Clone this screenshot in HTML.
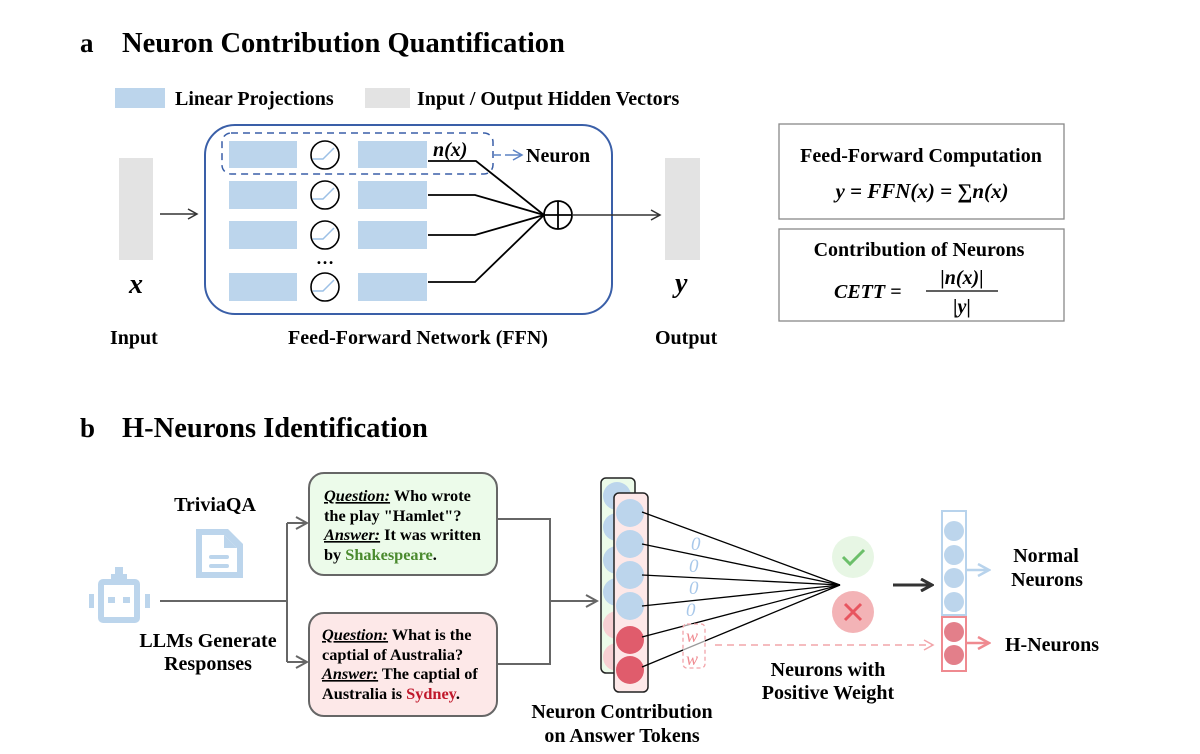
<!DOCTYPE html>
<html><head><meta charset="utf-8"><style>
body{margin:0;background:#fff}
svg{display:block}
text{font-family:"Liberation Serif",serif;font-weight:bold;fill:#000}
</style></head><body>
<svg width="1200" height="754" viewBox="0 0 1200 754" xmlns="http://www.w3.org/2000/svg">
<defs>
<marker id="ab" markerWidth="12" markerHeight="12" refX="10" refY="6" orient="auto" markerUnits="userSpaceOnUse"><path d="M1,1 L10,6 L1,11" fill="none" stroke="#333" stroke-width="1.5"/></marker>
<marker id="ag" markerWidth="14" markerHeight="14" refX="12" refY="7" orient="auto" markerUnits="userSpaceOnUse"><path d="M1,1 L12,7 L1,13" fill="none" stroke="#666" stroke-width="2"/></marker>
<marker id="ad" markerWidth="14" markerHeight="14" refX="12" refY="7" orient="auto" markerUnits="userSpaceOnUse"><path d="M1,1 L12,7 L1,13" fill="none" stroke="#333" stroke-width="3"/></marker>
<marker id="abl" markerWidth="14" markerHeight="14" refX="12" refY="7" orient="auto" markerUnits="userSpaceOnUse"><path d="M1,1 L12,7 L1,13" fill="none" stroke="#b8d3ec" stroke-width="2.5"/></marker>
<marker id="ar" markerWidth="14" markerHeight="14" refX="12" refY="7" orient="auto" markerUnits="userSpaceOnUse"><path d="M1,1 L12,7 L1,13" fill="none" stroke="#ef8a90" stroke-width="2.5"/></marker>
<marker id="arl" markerWidth="12" markerHeight="12" refX="10" refY="6" orient="auto" markerUnits="userSpaceOnUse"><path d="M1,1 L10,6 L1,11" fill="none" stroke="#f2a5aa" stroke-width="1.5"/></marker>
<marker id="an" markerWidth="12" markerHeight="12" refX="10" refY="6" orient="auto" markerUnits="userSpaceOnUse"><path d="M1,1 L10,6 L1,11" fill="none" stroke="#5b82c4" stroke-width="1.5"/></marker>
</defs>

<!-- Part a -->
<text x="80" y="52" font-size="27">a</text>
<text x="122" y="52" font-size="28.5">Neuron Contribution Quantification</text>
<rect x="115" y="88" width="50" height="20" fill="#bcd5ec"/>
<text x="175" y="105" font-size="20">Linear Projections</text>
<rect x="365" y="88" width="45" height="20" fill="#e3e3e3"/>
<text x="417" y="105" font-size="20">Input / Output Hidden Vectors</text>

<rect x="119" y="158" width="34" height="102" fill="#e3e3e3"/>
<line x1="160" y1="214" x2="197" y2="214" stroke="#333" stroke-width="1.5" marker-end="url(#ab)"/>
<text x="129" y="293" font-size="28" font-style="italic">x</text>
<text x="110" y="344" font-size="20">Input</text>

<rect x="205" y="125" width="407" height="189" rx="30" fill="none" stroke="#3a5fa8" stroke-width="2"/>
<rect x="222" y="133" width="271" height="41" rx="9" fill="none" stroke="#3a5fa8" stroke-width="1.5" stroke-dasharray="7,5"/>
<g fill="#bcd5ec">
<rect x="229" y="141" width="68" height="27"/><rect x="358" y="141" width="69" height="27"/>
<rect x="229" y="181" width="68" height="28"/><rect x="358" y="181" width="69" height="28"/>
<rect x="229" y="221" width="68" height="28"/><rect x="358" y="221" width="69" height="28"/>
<rect x="229" y="273" width="68" height="28"/><rect x="358" y="273" width="69" height="28"/>
</g>
<g fill="none" stroke="#000" stroke-width="1.6">
<circle cx="325" cy="155" r="14"/><circle cx="325" cy="195" r="14"/><circle cx="325" cy="235" r="14"/><circle cx="325" cy="287" r="14"/>
</g>
<g fill="none" stroke="#9cc0e6" stroke-width="1.5">
<path d="M313,159 H323 L334,148"/><path d="M313,199 H323 L334,188"/><path d="M313,239 H323 L334,228"/><path d="M313,291 H323 L334,280"/>
</g>
<text x="325" y="264" font-size="18" text-anchor="middle">…</text>
<g fill="none" stroke="#000" stroke-width="1.8">
<path d="M428,161 H476 L544,215"/><path d="M428,195 H475 L544,215"/><path d="M428,235 H475 L544,215"/><path d="M428,282 H475 L544,215"/>
<circle cx="558" cy="215" r="14"/><line x1="544" y1="215" x2="572" y2="215"/><line x1="558" y1="201" x2="558" y2="229"/>
</g>
<line x1="572" y1="215" x2="660" y2="215" stroke="#333" stroke-width="1.5" marker-end="url(#ab)"/>
<text x="433" y="156" font-size="20" font-style="italic">n(x)</text>
<path d="M494,155 H501" stroke="#5b82c4" stroke-width="1.5"/>
<line x1="505" y1="155" x2="522" y2="155" stroke="#5b82c4" stroke-width="1.5" marker-end="url(#an)"/>
<text x="526" y="162" font-size="20">Neuron</text>
<text x="418" y="344" font-size="20" text-anchor="middle">Feed-Forward Network (FFN)</text>

<rect x="665" y="158" width="35" height="102" fill="#e3e3e3"/>
<text x="675" y="292" font-size="28" font-style="italic">y</text>
<text x="655" y="344" font-size="20">Output</text>

<rect x="779" y="124" width="285" height="95" fill="none" stroke="#888" stroke-width="1.3"/>
<text x="921" y="162" font-size="20" text-anchor="middle">Feed-Forward Computation</text>
<text x="922" y="198" font-size="21" text-anchor="middle" font-style="italic">y = FFN(x) = ∑n(x)</text>
<rect x="779" y="229" width="285" height="92" fill="none" stroke="#888" stroke-width="1.3"/>
<text x="919" y="256" font-size="20" text-anchor="middle">Contribution of Neurons</text>
<text x="834" y="298" font-size="20" font-style="italic">CETT =</text>
<text x="962" y="284" font-size="20" text-anchor="middle" font-style="italic">|n(x)|</text>
<line x1="926" y1="291" x2="998" y2="291" stroke="#000" stroke-width="1.3"/>
<text x="962" y="313" font-size="20" text-anchor="middle" font-style="italic">|y|</text>

<!-- Part b -->
<text x="80" y="437" font-size="27">b</text>
<text x="122" y="437" font-size="28.5">H-Neurons Identification</text>

<!-- robot -->
<g fill="#bcd5ec">
<rect x="115" y="567" width="8" height="7"/><rect x="111" y="574" width="16" height="5"/>
<rect x="98" y="579" width="42" height="44" rx="5"/>
<rect x="89" y="594" width="5" height="14"/><rect x="145" y="594" width="5" height="14"/>
</g>
<rect x="104" y="585" width="30" height="32" fill="#fff"/>
<rect x="108" y="597" width="7" height="6" fill="#bcd5ec"/><rect x="123" y="597" width="7" height="6" fill="#bcd5ec"/>
<!-- document -->
<path d="M196,529 H228 L243,544 V578 H196 Z" fill="#bcd5ec"/>
<path d="M202,535 H224 L237,548 V572 H202 Z" fill="#fff"/>
<path d="M224,535 V548 H237" fill="#bcd5ec"/>
<rect x="209" y="555" width="20" height="4" rx="2" fill="#bcd5ec"/><rect x="209" y="564" width="20" height="4" rx="2" fill="#bcd5ec"/>
<text x="215" y="511" font-size="20" text-anchor="middle">TriviaQA</text>
<text x="208" y="647" font-size="20" text-anchor="middle">LLMs Generate</text>
<text x="208" y="670" font-size="20" text-anchor="middle">Responses</text>

<g fill="none" stroke="#666" stroke-width="2">
<line x1="160" y1="601" x2="287" y2="601"/>
<path d="M287,523 V662"/>
</g>
<line x1="287" y1="523" x2="307" y2="523" stroke="#666" stroke-width="2" marker-end="url(#ag)"/>
<line x1="287" y1="662" x2="307" y2="662" stroke="#666" stroke-width="2" marker-end="url(#ag)"/>

<rect x="309" y="473" width="188" height="102" rx="15" fill="#ecfbea" stroke="#666" stroke-width="2"/>
<rect x="309" y="613" width="188" height="103" rx="15" fill="#fde8e8" stroke="#666" stroke-width="2"/>
<g font-size="16.3">
<text x="324" y="501"><tspan font-style="italic" text-decoration="underline">Question:</tspan> Who wrote</text>
<text x="324" y="521">the play "Hamlet"?</text>
<text x="324" y="540"><tspan font-style="italic" text-decoration="underline">Answer:</tspan> It was written</text>
<text x="324" y="560">by <tspan style="fill:#4a8a2e">Shakespeare</tspan>.</text>
<text x="322" y="640"><tspan font-style="italic" text-decoration="underline">Question:</tspan> What is the</text>
<text x="322" y="660">captial of Australia?</text>
<text x="322" y="679"><tspan font-style="italic" text-decoration="underline">Answer:</tspan> The captial of</text>
<text x="322" y="699">Australia is <tspan style="fill:#c0182b">Sydney</tspan>.</text>
</g>
<path d="M497,519 H550 V664 H497" fill="none" stroke="#666" stroke-width="2"/>
<line x1="550" y1="601" x2="597" y2="601" stroke="#666" stroke-width="2" marker-end="url(#ag)"/>

<!-- columns -->
<rect x="601" y="478" width="34" height="195" rx="5" fill="#ecfbea" stroke="#222" stroke-width="1.5"/>
<g fill="#bcd5ec"><circle cx="617" cy="496" r="14"/><circle cx="617" cy="527" r="14"/><circle cx="617" cy="560" r="14"/><circle cx="617" cy="592" r="14"/></g>
<g fill="#f7d0d3"><circle cx="617" cy="625" r="14"/><circle cx="617" cy="657" r="14"/></g>
<rect x="614" y="493" width="34" height="199" rx="5" fill="#fde8e8" stroke="#222" stroke-width="1.5"/>
<g fill="#bcd5ec"><circle cx="630" cy="513" r="14"/><circle cx="630" cy="544" r="14"/><circle cx="630" cy="575" r="14"/><circle cx="630" cy="606" r="14"/></g>
<g fill="#e05c6c"><circle cx="630" cy="640" r="14"/><circle cx="630" cy="670" r="14"/></g>
<g stroke="#000" stroke-width="1.3">
<line x1="642" y1="512" x2="840" y2="585"/><line x1="642" y1="544" x2="840" y2="585"/><line x1="642" y1="575" x2="840" y2="585"/>
<line x1="642" y1="606" x2="840" y2="585"/><line x1="642" y1="637" x2="840" y2="585"/><line x1="642" y1="667" x2="840" y2="585"/>
</g>
<g font-size="19" font-style="italic">
<text x="691" y="550" style="fill:#a8c8ea;font-weight:normal">0</text><text x="689" y="572" style="fill:#a8c8ea;font-weight:normal">0</text><text x="689" y="594" style="fill:#a8c8ea;font-weight:normal">0</text><text x="686" y="616" style="fill:#a8c8ea;font-weight:normal">0</text>
</g>
<rect x="683" y="624" width="22" height="44" rx="4" fill="#fff" fill-opacity="0.6" stroke="#f2a5aa" stroke-width="1.3" stroke-dasharray="4,3"/>
<text x="686" y="642" font-size="18" font-style="italic" style="fill:#ef8a90;font-weight:normal">w</text>
<text x="686" y="665" font-size="18" font-style="italic" style="fill:#ef8a90;font-weight:normal">w</text>
<line x1="715" y1="645" x2="933" y2="645" stroke="#f2a5aa" stroke-width="1.5" stroke-dasharray="7,5" marker-end="url(#arl)"/>

<circle cx="853" cy="557" r="21" fill="#e7f6e4"/>
<path d="M843,557 L850,564 L864,550" fill="none" stroke="#6cbf6a" stroke-width="3"/>
<circle cx="853" cy="612" r="21" fill="#f3b3b6"/>
<path d="M845,604 L861,620 M861,604 L845,620" stroke="#e8555f" stroke-width="3"/>
<line x1="893" y1="585" x2="932" y2="585" stroke="#333" stroke-width="3" marker-end="url(#ad)"/>

<rect x="942" y="511" width="24" height="104" fill="none" stroke="#b8d3ec" stroke-width="2"/>
<g fill="#bcd5ec"><circle cx="954" cy="531" r="10"/><circle cx="954" cy="555" r="10"/><circle cx="954" cy="578" r="10"/><circle cx="954" cy="602" r="10"/></g>
<rect x="942" y="617" width="24" height="54" fill="none" stroke="#ef8a90" stroke-width="2"/>
<g fill="#e37f8a"><circle cx="954" cy="632" r="10"/><circle cx="954" cy="655" r="10"/></g>
<line x1="966" y1="570" x2="989" y2="570" stroke="#b8d3ec" stroke-width="2.5" marker-end="url(#abl)"/>
<line x1="966" y1="643" x2="989" y2="643" stroke="#ef8a90" stroke-width="2.5" marker-end="url(#ar)"/>
<text x="1046" y="562" font-size="20" text-anchor="middle">Normal</text>
<text x="1047" y="586" font-size="20" text-anchor="middle">Neurons</text>
<text x="1005" y="651" font-size="20">H-Neurons</text>
<text x="828" y="676" font-size="20" text-anchor="middle">Neurons with</text>
<text x="828" y="699" font-size="20" text-anchor="middle">Positive Weight</text>
<text x="622" y="718" font-size="20" text-anchor="middle">Neuron Contribution</text>
<text x="622" y="742" font-size="20" text-anchor="middle">on Answer Tokens</text>
</svg>
</body></html>
